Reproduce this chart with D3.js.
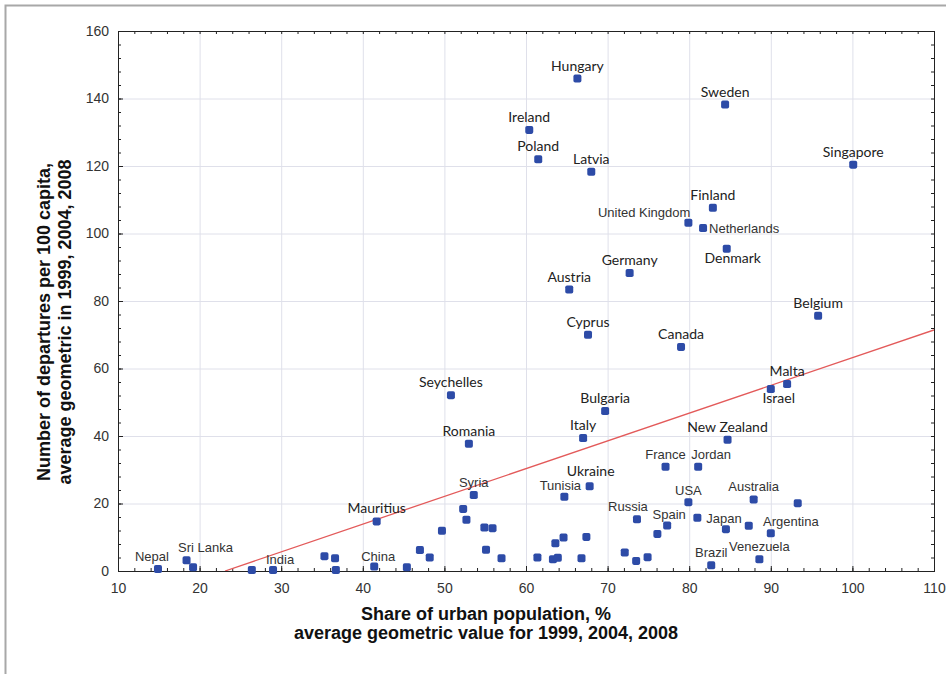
<!DOCTYPE html>
<html>
<head>
<meta charset="utf-8">
<script src="https://cdn.jsdelivr.net/npm/d3@7"></script>
<style>
  body { margin: 0; background: #fff; }
  svg { display: block; }
</style>
</head>
<body>
<svg id="chart" width="946" height="674"></svg>
<script>
// Country names ("" = unlabeled country)
const countries = [
  "Hungary", "Sweden", "Ireland", "Poland", "Latvia", "Singapore", "Finland",
  "United Kingdom", "Netherlands", "Denmark", "Germany", "Austria", "Belgium",
  "Cyprus", "Canada", "Malta", "Israel", "Seychelles", "Bulgaria", "Italy",
  "Romania", "New Zealand", "France", "Jordan", "Ukraine", "Tunisia", "Syria",
  "USA", "Australia", "", "Mauritius", "Russia", "Spain", "Japan", "Argentina",
  "", "", "", "Brazil", "Venezuela", "Nepal", "Sri Lanka", "", "", "India",
  "", "", "", "China", "", "", "", "", "", "", "", "", "", "", "", "", "", "",
  "", "", "", "", "", ""
];
// Share of urban population, %
const urbanShare = [
  66.3, 84.4, 60.4, 61.5, 68.0, 100.1, 82.9,
  79.9, 81.7, 84.6, 72.7, 65.3, 95.8,
  67.6, 79.0, 92.0, 90.0, 50.8, 69.7, 67.0,
  53.0, 84.7, 77.1, 81.1, 67.8, 64.7, 53.6,
  79.9, 87.9, 93.3, 41.7, 73.6, 77.3, 84.5, 90.0,
  81.0, 87.3, 76.1, 82.7, 88.6, 14.9, 18.4, 19.2, 26.4, 29.0,
  35.3, 36.6, 36.7, 41.4, 45.4, 47.0, 48.2, 49.7, 52.3, 52.7, 54.9, 55.9, 55.1, 57.0,
  61.4, 63.3, 63.9, 63.6, 64.6, 66.8, 67.4, 72.1, 73.5, 74.9
];
// Departures per 100 capita
const departures = [
  145.9, 138.2, 130.7, 122.0, 118.3, 120.4, 107.6,
  103.2, 101.6, 95.5, 88.3, 83.4, 75.6,
  70.0, 66.4, 55.4, 53.9, 52.1, 47.4, 39.4,
  37.7, 38.9, 30.9, 30.9, 25.1, 22.0, 22.5,
  20.4, 21.2, 20.1, 14.7, 15.3, 13.5, 12.4, 11.2,
  15.8, 13.4, 11.0, 1.7, 3.5, 0.6, 3.2, 1.1, 0.3, 0.3,
  4.4, 3.8, 0.3, 1.3, 1.1, 6.2, 4.0, 11.9, 18.4, 15.2, 12.9, 12.7, 6.3, 3.8,
  4.0, 3.5, 3.9, 8.2, 9.9, 3.8, 10.1, 5.5, 3.0, 4.1
];
const xTicks = [10, 20, 30, 40, 50, 60, 70, 80, 90, 100, 110];
const yTicks = [0, 20, 40, 60, 80, 100, 120, 140, 160];
// Linear trend: departures = slope * urbanShare + intercept
const trendSlope = 0.822;
const trendIntercept = -19.0;

const xTitle = ["Share of urban population, %", "average geometric value for 1999, 2004, 2008"];
const yTitle = ["Number of departures per 100 capita,", "average geometric in 1999, 2004, 2008"];

// Labels set in the narrower sans face
const sansLabels = new Set([
  "United Kingdom", "Netherlands", "France", "Jordan", "USA", "Australia", "Russia",
  "Spain", "Japan", "Argentina", "Brazil", "Venezuela", "Tunisia", "Nepal",
  "Sri Lanka", "India", "China", "Syria"
]);
// Label offsets that differ from "centered above the marker"
const labelPlacement = {
  "Sri Lanka": { dx: 19 },
  "Nepal": { dx: -6 },
  "Russia": { dx: -9 },
  "Jordan": { dx: 13 },
  "Argentina": { dx: 20, dy: -7 },
  "Israel": { dx: 8, dy: 14 },
  "Denmark": { dx: 6, dy: 14 },
  "United Kingdom": { anchor: "end", dx: 2, dy: -6 },
  "Netherlands": { anchor: "start", dx: 6, dy: 5 },
  "India": { dx: 7, dy: -6 },
  "China": { dx: 4, dy: -6 },
  "Spain": { dx: 2, dy: -6 },
  "USA": { dy: -7 },
  "Japan": { dx: -2, dy: -6 },
  "Ukraine": { dx: 1, dy: -10 },
  "Tunisia": { dx: -4, dy: -7 }
};

const data = countries.map((name, i) => ({ name, x: urbanShare[i], y: departures[i] }));

const svg = d3.select("#chart");
const W = 946, H = 674;
const m = { left: 118, right: W - 934, top: 31, bottom: H - 571 };
const pw = W - m.left - m.right, ph = H - m.top - m.bottom;

// outer figure frame
svg.append("rect").attr("x", 5.5).attr("y", 5.5).attr("width", 1000).attr("height", 1000)
  .attr("fill", "none").attr("stroke", "#a8a8a8").attr("stroke-width", 2);

const x = d3.scaleLinear().domain([10, 110]).range([m.left, m.left + pw]);
const y = d3.scaleLinear().domain([0, 160]).range([m.top + ph, m.top]);

const g = svg.append("g");

// grid
g.append("g").selectAll("line").data(xTicks.slice(1, -1)).join("line")
  .attr("x1", d => x(d) + 0.5).attr("x2", d => x(d) + 0.5)
  .attr("y1", m.top).attr("y2", m.top + ph)
  .attr("stroke", "#dfe0ea").attr("stroke-width", 1);
g.append("g").selectAll("line").data(yTicks.slice(1, -1)).join("line")
  .attr("y1", d => y(d) + 0.5).attr("y2", d => y(d) + 0.5)
  .attr("x1", m.left).attr("x2", m.left + pw)
  .attr("stroke", "#dfe0ea").attr("stroke-width", 1);

// axes (ticks inward on all four sides)
const tickFont = "'Liberation Sans', Arial, sans-serif";
function styleAxis(sel) {
  sel.select(".domain").remove();
  sel.selectAll("line").attr("stroke", "#222");
  sel.selectAll("text").attr("font-family", tickFont).attr("font-size", 14).attr("fill", "#333");
}
const xMinor = d3.range(10, 110.01, 2);
const yMinor = d3.range(0, 160.01, 4);

svg.append("g").attr("transform", `translate(0,${m.top + ph})`)
  .call(d3.axisBottom(x).tickValues(xMinor).tickSize(-3).tickFormat(""))
  .call(styleAxis);
svg.append("g").attr("transform", `translate(0,${m.top + ph})`)
  .call(d3.axisBottom(x).tickValues(xTicks).tickSize(-5).tickPadding(12).tickFormat(d3.format("d")))
  .call(styleAxis);
svg.append("g").attr("transform", `translate(0,${m.top})`)
  .call(d3.axisTop(x).tickValues(xMinor).tickSize(-3).tickFormat(""))
  .call(styleAxis);
svg.append("g").attr("transform", `translate(${m.left},0)`)
  .call(d3.axisLeft(y).tickValues(yMinor).tickSize(-3).tickFormat(""))
  .call(styleAxis);
svg.append("g").attr("transform", `translate(${m.left},0)`)
  .call(d3.axisLeft(y).tickValues(yTicks).tickSize(-5).tickPadding(9).tickFormat(d3.format("d")))
  .call(styleAxis);
svg.append("g").attr("transform", `translate(${m.left + pw},0)`)
  .call(d3.axisRight(y).tickValues(yMinor).tickSize(-3).tickFormat(""))
  .call(styleAxis);

// plot frame
svg.append("rect").attr("x", m.left + 0.5).attr("y", m.top + 0.5)
  .attr("width", pw).attr("height", ph)
  .attr("fill", "none").attr("stroke", "#222").attr("stroke-width", 1);

// trend line, clipped to the plot area
svg.append("clipPath").attr("id", "plotClip").append("rect")
  .attr("x", m.left).attr("y", m.top).attr("width", pw).attr("height", ph);
const xStart = -trendIntercept / trendSlope;
svg.append("line")
  .attr("clip-path", "url(#plotClip)")
  .attr("x1", x(xStart)).attr("y1", y(trendSlope * xStart + trendIntercept))
  .attr("x2", x(110)).attr("y2", y(trendSlope * 110 + trendIntercept))
  .attr("stroke", "#e35a5a").attr("stroke-width", 1.3);

// markers
const s = 8;
svg.append("g").selectAll("rect").data(data).join("rect")
  .attr("x", d => x(d.x) - s / 2).attr("y", d => y(d.y) - s / 2)
  .attr("width", s).attr("height", s).attr("rx", 1.8)
  .attr("fill", "#2d4ba7");

// country labels
svg.append("g").selectAll("text").data(data.filter(d => d.name)).join("text")
  .each(function (d) {
    const p = labelPlacement[d.name] || {};
    const sans = sansLabels.has(d.name);
    d3.select(this)
      .attr("x", x(d.x) + (p.dx || 0))
      .attr("y", y(d.y) + (p.dy !== undefined ? p.dy : -8))
      .attr("text-anchor", p.anchor || "middle")
      .attr("font-family", sans ? "'Liberation Sans', Arial, sans-serif" : "Lato, 'Open Sans', sans-serif")
      .attr("font-size", sans ? 13 : 14)
      .attr("fill", sans ? "#333" : "#222")
      .text(d.name);
  });

// axis titles
const titleFont = "'Liberation Sans', Arial, sans-serif";
svg.append("text").attr("text-anchor", "middle")
  .attr("font-family", titleFont).attr("font-weight", "bold").attr("font-size", 18).attr("fill", "#111")
  .selectAll("tspan").data(xTitle).join("tspan")
  .attr("x", 486).attr("y", (d, i) => 620 + i * 19).text(d => d);

svg.append("text").attr("text-anchor", "middle")
  .attr("transform", "translate(0,322) rotate(-90)")
  .attr("font-family", titleFont).attr("font-weight", "bold").attr("font-size", 18).attr("fill", "#111")
  .selectAll("tspan").data(yTitle).join("tspan")
  .attr("x", 0).attr("y", (d, i) => 50 + i * 21).text(d => d);
</script>
</body>
</html>
